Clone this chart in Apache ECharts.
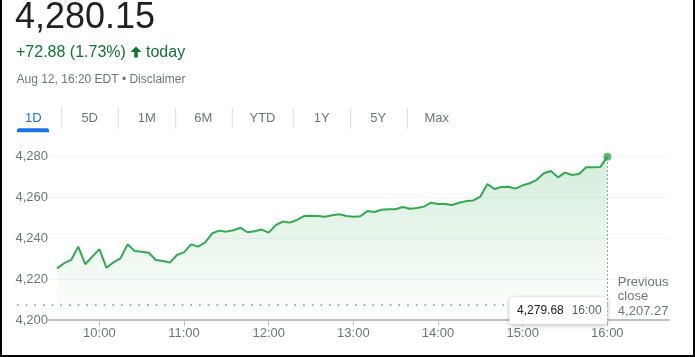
<!DOCTYPE html>
<html>
<head>
<meta charset="utf-8">
<script src="https://cdn.jsdelivr.net/npm/echarts@6/dist/echarts.min.js"></script>
<style>
html,body{margin:0;padding:0;background:#fff;}
#chart{position:absolute;left:0;top:0;width:695px;height:357px;}
#frame{position:absolute;left:0;top:0;width:695px;height:357px;box-sizing:border-box;border-left:2px solid #000;border-right:2px solid #000;border-bottom:2px solid #000;pointer-events:none;}
</style>
</head>
<body>
<div id="chart"></div>
<div id="frame"></div>
<script>
// ---- data ----
var times = [
 '9:30','9:35','9:40','9:45','9:50','9:55',
 '10:00','10:05','10:10','10:15','10:20','10:25','10:30','10:35','10:40','10:45','10:50','10:55',
 '11:00','11:05','11:10','11:15','11:20','11:25','11:30','11:35','11:40','11:45','11:50','11:55',
 '12:00','12:05','12:10','12:15','12:20','12:25','12:30','12:35','12:40','12:45','12:50','12:55',
 '13:00','13:05','13:10','13:15','13:20','13:25','13:30','13:35','13:40','13:45','13:50','13:55',
 '14:00','14:05','14:10','14:15','14:20','14:25','14:30','14:35','14:40','14:45','14:50','14:55',
 '15:00','15:05','15:10','15:15','15:20','15:25','15:30','15:35','15:40','15:45','15:50','15:55',
 '16:00'
];
var prices = [
 4225.2,4227.7,4229.3,4235.8,4227.2,4230.9,
 4234.6,4225.5,4228.1,4230.1,4236.9,4233.7,4233.3,4232.8,4229.3,4228.8,4228.0,4231.7,
 4233.0,4236.9,4235.8,4237.9,4242.3,4243.6,4243.1,4243.8,4245.0,4242.8,4243.3,4244.1,
 4242.6,4246.3,4248.0,4247.5,4248.8,4250.7,4250.9,4250.7,4250.4,4251.1,4251.6,4250.7,
 4250.4,4250.6,4253.2,4252.7,4253.8,4254.0,4254.0,4255.1,4254.3,4254.6,4255.3,4257.2,
 4256.6,4256.6,4256.1,4257.2,4258.0,4258.3,4260.2,4266.3,4263.9,4264.9,4265.0,4264.1,
 4265.7,4266.7,4268.4,4271.6,4272.7,4269.6,4271.9,4270.7,4271.2,4274.5,4274.5,4274.6,
 4279.68
];
var tickTimes = ['10:00','11:00','12:00','13:00','14:00','15:00','16:00'];
var yTicks = [4200, 4220, 4240, 4260, 4280];
var previousClose = 4207.27;
var lastPrice = '4,280.15';
var changeText = '+72.88 (1.73%)';
var dateText = 'Aug 12, 16:20 EDT \u2022 Disclaimer';
var tabs = ['1D','5D','1M','6M','YTD','1Y','5Y','Max'];
var tooltipValue = '4,279.68';
var tooltipTime = '16:00';

// ---- helpers ----
function toMin(t){var p=t.split(':');return +p[0]*60 + +p[1];}
function fmtTime(v){var h=Math.floor(v/60),m=Math.round(v%60);return h+':'+(m<10?'0':'')+m;}
var seriesData = times.map(function(t,i){return [toMin(t), prices[i]];});
var lastPt = seriesData[seriesData.length-1];
var tickVals = tickTimes.map(toMin);

var FONT = '"Liberation Sans", Arial, sans-serif';
var GRAY = '#70757a';
var GREEN = '#34a853';

var chart = echarts.init(document.getElementById('chart'), null, {renderer:'canvas'});

var tabCenters = [33.3, 89.7, 146.8, 203.3, 262.5, 321.7, 378.3, 436.7];
var sepX = [61.7, 118.3, 175.7, 232.3, 293.3, 350.7, 407.3];

var headerGraphics = [
  {type:'text', left:null, x:15, y:18.5, style:{text:lastPrice, font:'36px '+FONT, fill:'#202124', verticalAlign:'middle'}},
  {type:'text', x:16, y:52.5, style:{text:changeText, font:'16px '+FONT, fill:'#137333', verticalAlign:'middle'}},
  {type:'polygon', shape:{points:[[136,46.5],[141.5,52],[137.8,52],[137.8,57.5],[134.2,57.5],[134.2,52],[130.5,52]]}, style:{fill:'#137333'}},
  {type:'text', x:146, y:52.5, style:{text:'today', font:'16px '+FONT, fill:'#137333', verticalAlign:'middle'}},
  {type:'text', x:16.5, y:79.5, style:{text:dateText, font:'12px '+FONT, fill:GRAY, verticalAlign:'middle'}},
  {type:'rect', shape:{x:17, y:128.3, width:32, height:4, r:[2,2,0,0]}, style:{fill:'#1a73e8'}}
];
tabs.forEach(function(t,i){
  headerGraphics.push({type:'text', x:tabCenters[i], y:118, style:{text:t, font:'13px '+FONT, fill:i===0?'#1a73e8':GRAY, align:'center', verticalAlign:'middle'}});
});
sepX.forEach(function(x){
  headerGraphics.push({type:'line', shape:{x1:x, y1:107.5, x2:x, y2:128.5}, style:{stroke:'#dadce0', lineWidth:1}});
});

chart.setOption({
  animation:false,
  grid:{left:49, right:26, top:156, bottom:37, containLabel:false},
  xAxis:{
    type:'value', min:564.3, max:1003.7,
    axisLine:{show:true, lineStyle:{color:'#bdc1c6', width:2}},
    axisTick:{show:true, customValues:tickVals, length:6, lineStyle:{color:'#bdc1c6', width:1}},
    axisLabel:{show:true, customValues:tickVals, formatter:function(v){return fmtTime(v);}, color:GRAY, fontSize:13, fontFamily:FONT, margin:7},
    splitLine:{show:false}
  },
  yAxis:{
    type:'value', min:yTicks[0], max:yTicks[yTicks.length-1], interval:20,
    axisLine:{show:false}, axisTick:{show:false},
    axisLabel:{color:GRAY, fontSize:13, fontFamily:FONT, margin:1, formatter:function(v){return v.toLocaleString('en-US');}},
    splitLine:{show:true, lineStyle:{color:'#f1f3f4', width:1}}
  },
  series:[
    {
      type:'line', data:seriesData, showSymbol:false, symbol:'none',
      lineStyle:{color:GREEN, width:2}, itemStyle:{color:GREEN},
      areaStyle:{color:new echarts.graphic.LinearGradient(0,0,0,1,[{offset:0,color:'rgba(52,168,83,0.30)'},{offset:1,color:'rgba(52,168,83,0)'}])},
      markLine:{silent:true, symbol:['none','none'], label:{show:false},
        lineStyle:{type:[2,2], color:'#9aa0a6', width:1},
        data:[{xAxis:lastPt[0]}]}
    },
    {type:'scatter', data:[lastPt], symbol:'circle', symbolSize:8, itemStyle:{color:GREEN}, silent:true, z:5}
  ],
  graphic:headerGraphics
});

// overlays positioned from the library's scales
var pLast = chart.convertToPixel({gridIndex:0}, lastPt);
var pPrev = chart.convertToPixel({gridIndex:0}, [lastPt[0], previousClose]);
var pAxis = chart.convertToPixel({gridIndex:0}, [lastPt[0], yTicks[0]]);
var prevY = pPrev[1], axisY = pAxis[1], lx = pLast[0];

var over = headerGraphics.concat([
  {type:'line', shape:{x1:17, y1:prevY, x2:lx+2, y2:prevY}, style:{stroke:'#9aa0a6', lineWidth:1.6, lineDash:[1.6,7.07]}, z:1},
  {type:'text', x:lx+10.5, y:axisY-37.3, style:{text:'Previous', font:'13px '+FONT, fill:GRAY, verticalAlign:'middle'}},
  {type:'text', x:lx+10.5, y:axisY-23.3, style:{text:'close', font:'13px '+FONT, fill:GRAY, verticalAlign:'middle'}},
  {type:'text', x:lx+10.5, y:axisY-8.3, style:{text:previousClose.toLocaleString('en-US',{minimumFractionDigits:2}), font:'13px '+FONT, fill:GRAY, verticalAlign:'middle'}},
  {type:'rect', shape:{x:lx-98, y:axisY-22.7, width:98, height:27, r:3}, style:{fill:'#fff', shadowBlur:4, shadowColor:'rgba(0,0,0,0.3)', shadowOffsetY:1}, z:20},
  {type:'text', x:lx-90.3, y:axisY-9, style:{text:tooltipValue, font:'12px '+FONT, fill:'#202124', verticalAlign:'middle'}, z:21},
  {type:'text', x:lx-35.7, y:axisY-9, style:{text:tooltipTime, font:'12px '+FONT, fill:'#5f6368', verticalAlign:'middle'}, z:21}
]);
chart.setOption({graphic:over}, {replaceMerge:['graphic']});
</script>
</body>
</html>
